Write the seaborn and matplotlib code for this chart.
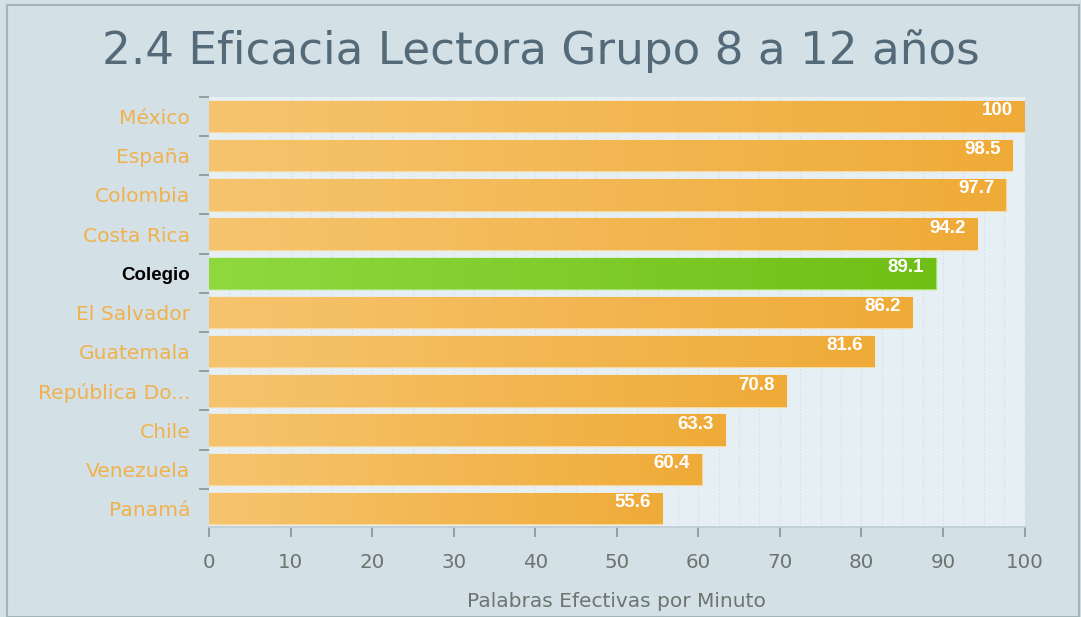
import matplotlib
matplotlib.use("Agg")
import matplotlib.pyplot as plt
import matplotlib.colors as mcolors
from matplotlib.patches import Rectangle
from matplotlib.ticker import MultipleLocator, FixedLocator
import numpy as np
import pandas as pd
import seaborn as sns

# Data
paises = ["México", "España", "Colombia", "Costa Rica", "Colegio", "El Salvador",
          "Guatemala", "República Do...", "Chile", "Venezuela", "Panamá"]
palabras = [100, 98.5, 97.7, 94.2, 89.1, 86.2, 81.6, 70.8, 63.3, 60.4, 55.6]
destacado = "Colegio"
etiquetas_valor = ["100", "98.5", "97.7", "94.2", "89.1", "86.2", "81.6", "70.8", "63.3", "60.4", "55.6"]

df = pd.DataFrame({"pais": paises, "valor": palabras})

fondo = "#d3e0e6"
naranja = ("#f6c46e", "#efab38")
verde = ("#8fd93f", "#6fbf16")
paleta = {p: (verde[1] if p == destacado else naranja[1]) for p in paises}

sns.set_theme(style="white")
plt.rcParams["font.family"] = ["DejaVu Sans"]

fig = plt.figure(figsize=(10.81, 6.17), dpi=100, facecolor=fondo)
ax = fig.add_axes([0.1933, 0.146, 0.7545, 0.697])
ax.set_facecolor("#e6f0f4")

sns.barplot(data=df, y="pais", x="valor", hue="pais", palette=paleta, legend=False,
            orient="h", width=0.8, ax=ax, zorder=3)

# horizontal gradient inside each bar
for patch, pais in zip(ax.patches, paises):
    c0, c1 = verde if pais == destacado else naranja
    cmap = mcolors.LinearSegmentedColormap.from_list("g", [c0, c1])
    x0, y0 = patch.get_x(), patch.get_y()
    w, h = patch.get_width(), patch.get_height()
    grad = np.linspace(0, 1, 256).reshape(1, -1)
    im = ax.imshow(grad, cmap=cmap, aspect="auto", extent=(x0, x0 + w, y0 + h, y0),
                   zorder=4, interpolation="bicubic")
    im.set_clip_path(patch)
    patch.set_edgecolor("#f7d9a3" if pais != destacado else "#a6e36a")
    patch.set_linewidth(1.0)

# value labels
for i, (v, t) in enumerate(zip(palabras, etiquetas_valor)):
    ax.text(v - 1.4, i - 0.15, t, ha="right", va="center", color="white",
            fontsize=13.5, fontweight="bold", family="Liberation Sans", zorder=6)

ax.set_xlim(0, 100)
ax.set_ylim(len(paises) - 0.53, -0.5)
ax.xaxis.set_major_locator(MultipleLocator(10))
ax.xaxis.set_minor_locator(MultipleLocator(2.5))
ax.grid(axis="x", which="both", color="#cddbe1", linestyle=(0, (1, 2)), linewidth=0.8, zorder=0)
ax.grid(axis="y", visible=False)
ax.set_axisbelow(True)

for s in ["top", "right", "left"]:
    ax.spines[s].set_visible(False)
ax.spines["bottom"].set_color("#bccdd5")
ax.spines["bottom"].set_linewidth(1.2)

ax.tick_params(axis="x", which="major", bottom=True, length=7, width=1.2, color="#8a9590",
               labelsize=14.3, labelcolor="#6e7570", pad=12)
ax.tick_params(axis="x", which="minor", bottom=False)

# y ticks: labels without marks, small dashes at category boundaries
ax.yaxis.set_minor_locator(FixedLocator(np.arange(-0.5, len(paises), 1)))
ax.tick_params(axis="y", which="major", left=False, length=0, labelsize=14.6, pad=13.5)
ax.tick_params(axis="y", which="minor", left=True, length=7, width=1.2, color="#8a9590")
for lbl in ax.get_yticklabels():
    if lbl.get_text() == destacado:
        lbl.set_color("black")
        lbl.set_fontweight("bold")
        lbl.set_fontfamily("Liberation Sans")
        lbl.set_fontsize(13.5)
    else:
        lbl.set_color("#f0b24e")

ax.set_ylabel("")
ax.set_xlabel("Palabras Efectivas por Minuto", fontsize=14.5, color="#6e7570", labelpad=14)

fig.text(0.5, 0.918, "2.4 Eficacia Lectora Grupo 8 a 12 años", ha="center", va="center",
         fontsize=32.6, color="#546a78")

fig.patches.append(Rectangle((0.0065, 0.0), 0.992, 0.992, transform=fig.transFigure,
                             fill=False, edgecolor="#a3b3ba", linewidth=1.5))

fig.savefig("out.png", dpi=100, facecolor=fondo)
